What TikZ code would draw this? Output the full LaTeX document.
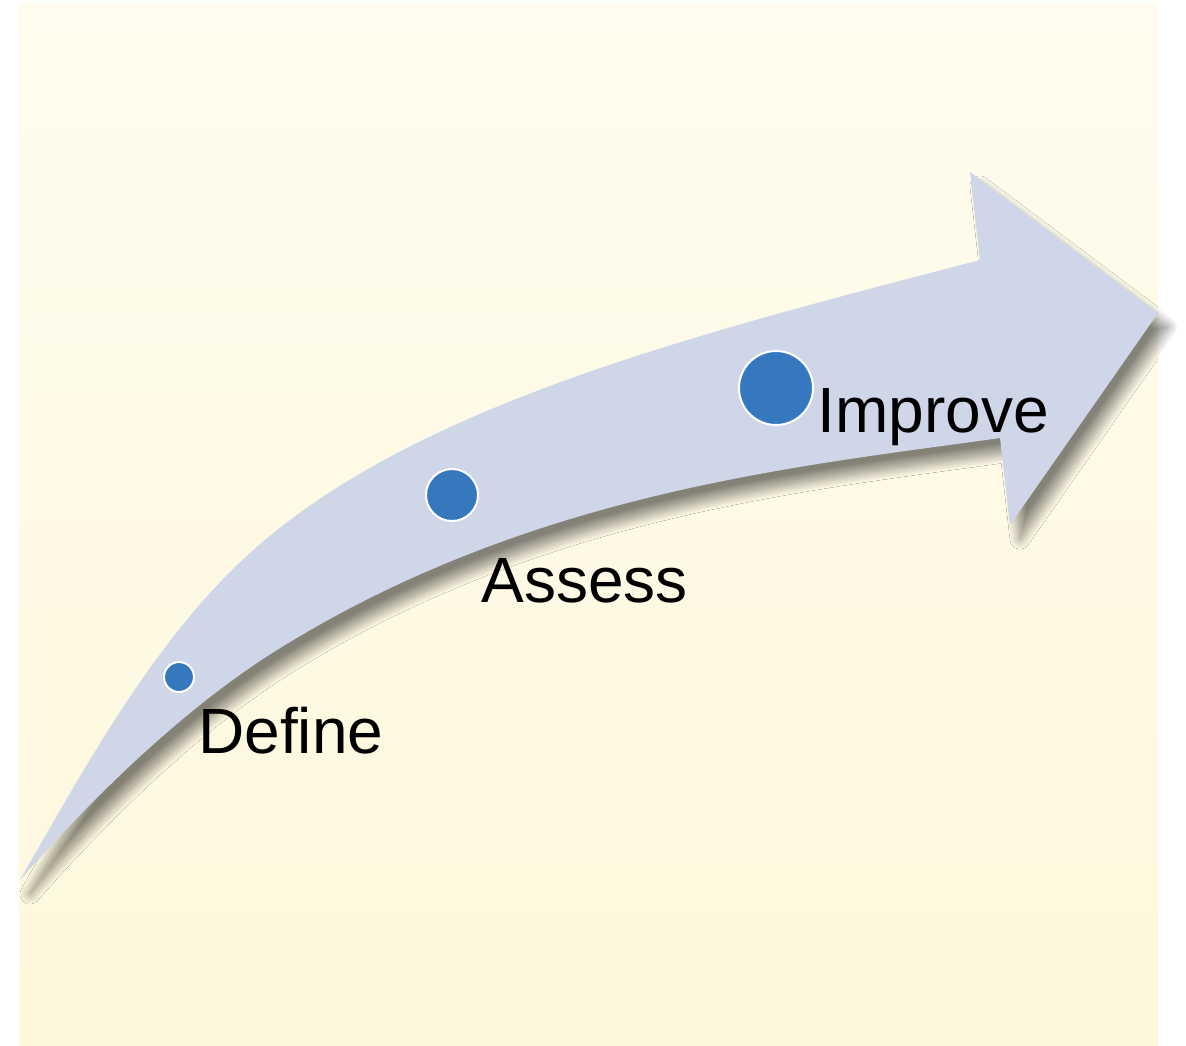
\documentclass[tikz,border=0pt]{standalone}
\usepackage{fontspec}
\setmainfont{Liberation Sans}
\usetikzlibrary{shadows.blur}
\definecolor{bgtop}{HTML}{FFFCEF}
\definecolor{bgbot}{HTML}{FDF7DB}
\definecolor{arrowfill}{HTML}{CFD6E7}
\definecolor{dotblue}{HTML}{3678BE}
\begin{document}
\begin{tikzpicture}[x=0.5pt,y=-0.5pt,
  dot/.style={circle, fill=dotblue, draw=white, line width=1pt, inner sep=0pt},
  label/.style={anchor=base west, inner sep=0pt, font=\fontsize{32pt}{36pt}\selectfont, text=black}]
\useasboundingbox (0,0) rectangle (1186,1045);
% pale yellow backdrop
\shade[top color=bgtop, bottom color=bgbot] (19,3) rectangle (1158,1045);
% curved arrow with soft drop shadow
\fill[arrowfill, blur shadow={shadow xshift=5pt, shadow yshift=-7pt, shadow blur radius=5pt, shadow blur steps=20, shadow opacity=48}]
  (20,880) .. controls (85,767) and (154,640) .. (250,553)
  .. controls (413,405.6) and (692,335) .. (980,260)
  -- (970,172) -- (1158,313) -- (1010,525) -- (1000,438)
  .. controls (802,466) and (532,491) .. (277,650)
  .. controls (183.5,708.3) and (92.6,797.5) .. (20,880)
  -- cycle;
% milestones
\node[dot, minimum size=15pt] (d1) at (179,677) {};
\node[dot, minimum size=26pt] (d2) at (452,495) {};
\node[dot, minimum size=37pt] (d3) at (776,388) {};
\node[label] (l1) at (198,753) {Define};
\node[label] (l2) at (481,602) {Assess};
\node[label] (l3) at (817,432) {Improve};
\end{tikzpicture}
\end{document}
